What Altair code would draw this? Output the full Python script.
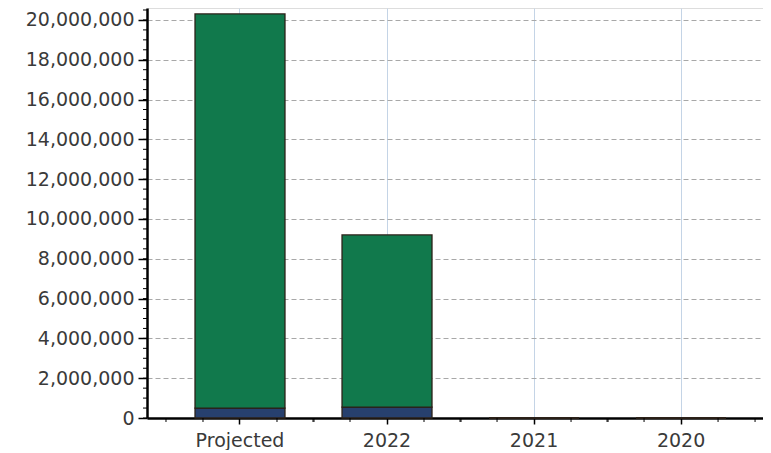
import altair as alt
import pandas as pd

categories = ["Projected", "2022", "2021", "2020"]
base_values = [500000, 550000, 0, 0]
main_values = [19800000, 8650000, 0, 0]
series_names = ["Base", "Main"]
series_colors = ["#27406e", "#11794c"]
y_ticks = list(range(0, 20000001, 2000000))
y_minor = list(range(0, 20500001, 500000))

rows = []
for i, c in enumerate(categories):
    rows.append({"cat": c, "series": "Base", "order": 0, "value": base_values[i]})
    rows.append({"cat": c, "series": "Main", "order": 1, "value": main_values[i]})
df = pd.DataFrame(rows)
cat_df = pd.DataFrame({"cat": categories})
minor_df = pd.DataFrame({"v": y_minor})

W, H = 616, 410
xscale = alt.Scale(domain=categories, paddingInner=0.388, paddingOuter=0.289, align=0.565)
yscale = alt.Scale(domain=[0, 20600000], nice=False)

bars = alt.Chart(df).mark_bar(stroke="#2b2118", strokeWidth=1.3).encode(
    x=alt.X("cat:N", scale=xscale, sort=categories, title=None,
            axis=alt.Axis(labelAngle=0, labelFontSize=19, labelFont="DejaVu Sans",
                          labelColor="#3a3a3a", labelPadding=7, tickSize=6, tickColor="black",
                          tickWidth=1.5, domainColor="black", domainWidth=2.5,
                          grid=True, gridColor="#c4d4e6", gridWidth=1)),
    y=alt.Y("value:Q", scale=yscale, stack="zero", title=None,
            axis=alt.Axis(values=y_ticks, format=",d", labelFontSize=19,
                          labelFont="DejaVu Sans", labelColor="#3a3a3a", labelPadding=4,
                          tickSize=9, tickColor="black", tickWidth=1.5,
                          domainColor="black", domainWidth=2.5,
                          grid=True, gridColor="#a8a8a8", gridDash=[5, 3], gridWidth=1)),
    color=alt.Color("series:N", scale=alt.Scale(domain=series_names, range=series_colors), legend=None),
    order=alt.Order("order:Q"),
)

ymin = alt.Chart(minor_df).mark_rule(color="black", strokeWidth=1).encode(
    y=alt.Y("v:Q", scale=yscale),
    x=alt.value(-4), x2=alt.value(0),
)

xminor_layers = []
for off in [-74, -37, 37, 74]:
    xminor_layers.append(
        alt.Chart(cat_df).mark_rule(color="black", strokeWidth=1, xOffset=off).encode(
            x=alt.X("cat:N", scale=xscale, sort=categories),
            y=alt.value(H), y2=alt.value(H + 4),
        )
    )

chart = alt.layer(bars, ymin, *xminor_layers).properties(
    width=W, height=H,
    autosize=alt.AutoSizeParams(type="none"),
    padding={"left": 139, "top": 0, "right": 0, "bottom": 32},
).configure_view(stroke=None).configure(background="white")

chart.save("out.html", embed_options={"renderer": "svg", "actions": False})
